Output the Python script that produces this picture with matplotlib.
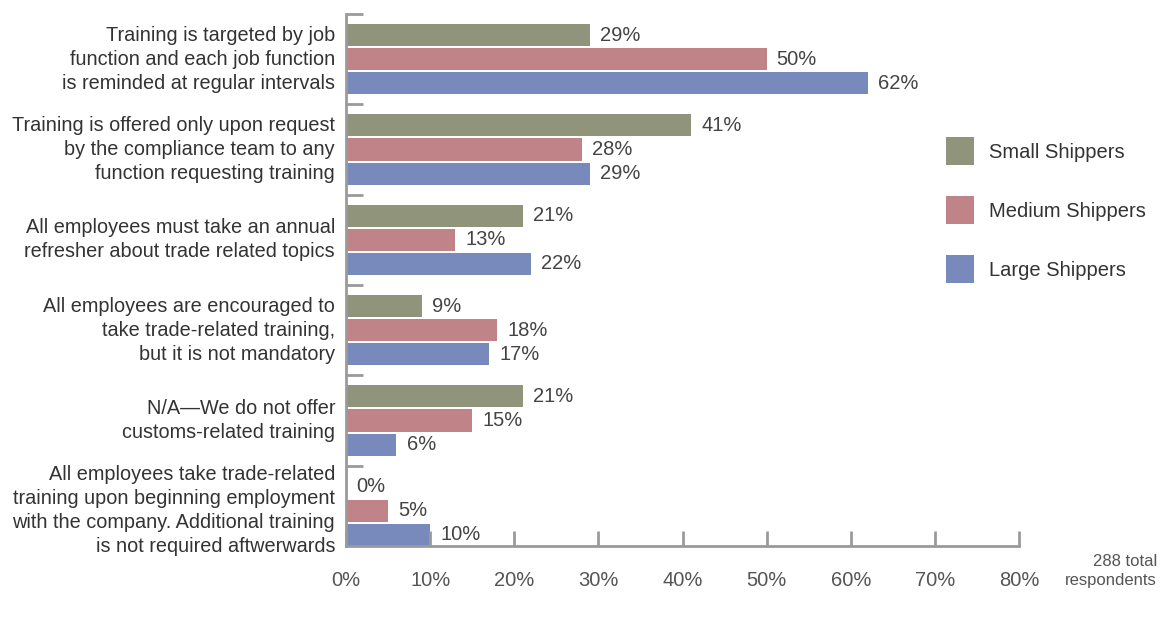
import matplotlib.pyplot as plt
import numpy as np

# ---------------- Data ----------------
categories = [
    "Training is targeted by job\nfunction and each job function\nis reminded at regular intervals",
    "Training is offered only upon request\nby the compliance team to any\nfunction requesting training",
    "All employees must take an annual\nrefresher about trade related topics",
    "All employees are encouraged to\ntake trade-related training,\nbut it is not mandatory",
    "N/A\u2014We do not offer\ncustoms-related training",
    "All employees take trade-related\ntraining upon beginning employment\nwith the company. Additional training\nis not required aftwerwards",
]
series_names = ["Small Shippers", "Medium Shippers", "Large Shippers"]
small = [29, 41, 21, 9, 21, 0]
medium = [50, 28, 13, 18, 15, 5]
large = [62, 29, 22, 17, 6, 10]
x_ticks = [0, 10, 20, 30, 40, 50, 60, 70, 80]

colors = ["#8f947a", "#c08387", "#788abc"]
text_col = "#333333"
axis_col = "#9a9a9a"

plt.rcParams['font.family'] = ['Liberation Sans', 'DejaVu Sans']

fig = plt.figure(figsize=(11.62, 6.25), dpi=100)
ax = fig.add_axes([346 / 1162, 79 / 625, 673 / 1162, 532 / 625])

# group layout (units: one group = 1.0)
bar_h = 22 / 90
step = 24 / 90
first = 21 / 90
n = len(categories)
group_top = np.arange(n)

for j, vals in enumerate([small, medium, large]):
    ys = group_top + first + j * step
    ax.barh(ys, vals, height=bar_h, color=colors[j], label=series_names[j])
    for y, v in zip(ys, vals):
        ax.text(v + 1.2, y, f"{v}%", va='center', ha='left',
                fontsize=14.5, color="#444444")

# category labels, centered on each group of bars
for k, lab in enumerate(categories):
    yc = k + first + step
    ax.text(-1.3, yc, lab, ha='right', va='center', fontsize=14.3,
            color=text_col, linespacing=1.33)

ax.set_xlim(0, 80)
ax.set_ylim(n - 10 / 90, 0)
ax.set_xticks(x_ticks)
ax.set_xticklabels([f"{t}%" for t in x_ticks], fontsize=14.5, color="#555555")
ax.set_yticks(group_top)
ax.set_yticklabels([])

ax.tick_params(axis='x', direction='in', length=11, width=2, color=axis_col, pad=18)
ax.tick_params(axis='y', direction='in', length=12, width=2, color=axis_col)

for side in ['top', 'right']:
    ax.spines[side].set_visible(False)
for side in ['left', 'bottom']:
    ax.spines[side].set_color(axis_col)
    ax.spines[side].set_linewidth(2)

leg = fig.legend(loc='upper left', bbox_to_anchor=(938 / 1162, 1 - 129 / 625),
                 frameon=False, fontsize=14.5, handlelength=1.39, handleheight=1.76,
                 labelspacing=1.55, handletextpad=0.75, borderaxespad=0)
for t in leg.get_texts():
    t.set_color(text_col)

fig.text(1157 / 1162, 1 - 571 / 625, "288 total\nrespondents", ha='right', va='center',
         fontsize=12, color="#555555", linespacing=1.25)

fig.savefig("out.png", dpi=100)
